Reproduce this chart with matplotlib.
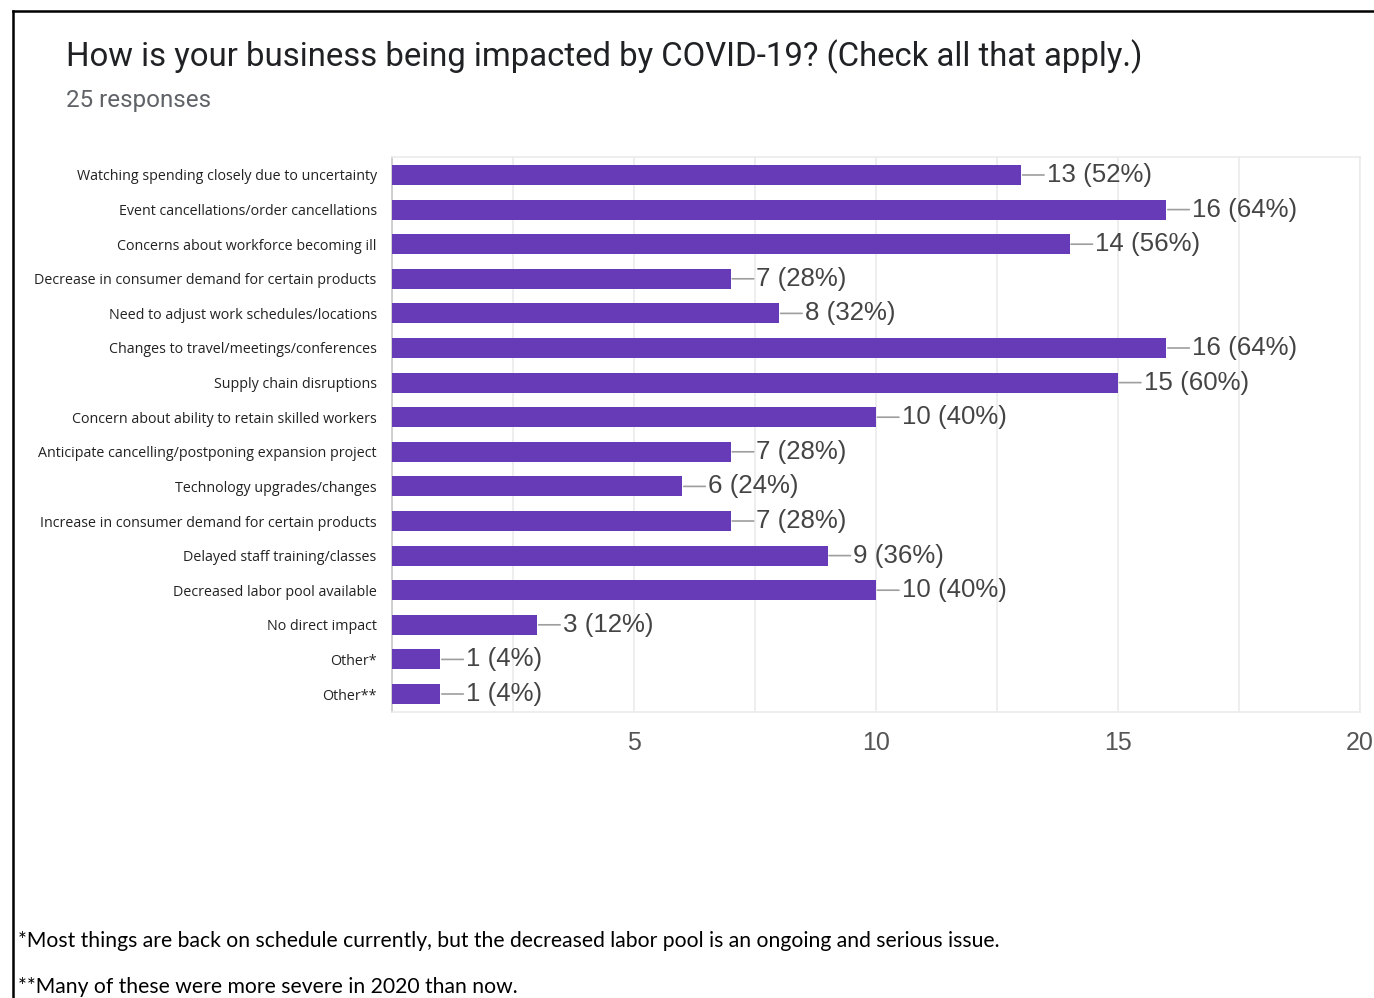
import matplotlib
matplotlib.use("Agg")
import matplotlib.pyplot as plt
from matplotlib.lines import Line2D
import numpy as np

# Data
categories = [
    "Watching spending closely due to uncertainty",
    "Event cancellations/order cancellations",
    "Concerns about workforce becoming ill",
    "Decrease in consumer demand for certain products",
    "Need to adjust work schedules/locations",
    "Changes to travel/meetings/conferences",
    "Supply chain disruptions",
    "Concern about ability to retain skilled workers",
    "Anticipate cancelling/postponing expansion project",
    "Technology upgrades/changes",
    "Increase in consumer demand for certain products",
    "Delayed staff training/classes",
    "Decreased labor pool available",
    "No direct impact",
    "Other*",
    "Other**",
]
counts = [13, 16, 14, 7, 8, 16, 15, 10, 7, 6, 7, 9, 10, 3, 1, 1]
n_responses = 25

title = "How is your business being impacted by COVID-19? (Check all that apply.)"
subtitle = f"{n_responses} responses"
footnotes = [
    "*Most things are back on schedule currently, but the decreased labor pool is an ongoing and serious issue.",
    "**Many of these were more severe in 2020 than now.",
]

W, H = 1374, 998
fig = plt.figure(figsize=(W / 100, H / 100), dpi=100)
fig.patch.set_facecolor("white")

# plot area
ax = fig.add_axes([392 / W, 1 - 712 / H, (1360 - 392) / W, (712 - 157) / H])
y = np.arange(len(categories))
ax.barh(y, counts, height=0.58, color="#673ab7", zorder=3)
ax.set_ylim(len(categories) - 0.48, -0.52)
ax.set_xlim(0, 20)

for yi, c in zip(y, counts):
    ax.annotate(f"{c} ({round(100 * c / n_responses)}%)", xy=(c, yi),
                xytext=(18.5, 0), textcoords="offset points",
                va="center", ha="left", fontsize=18.6, color="#444444",
                family="Liberation Sans",
                arrowprops=dict(arrowstyle="-", color="#9e9e9e", lw=1.2,
                                shrinkA=0, shrinkB=1))

ax.set_yticks(y)
ax.set_yticklabels(categories, family="Open Sans", fontsize=10.3, color="#222222")
ax.tick_params(axis="y", length=0, pad=11)

xt = np.arange(0, 20.01, 2.5)
ax.set_xticks(xt)
ax.set_xticklabels([f"{v:g}" if v > 0 and v % 5 == 0 else "" for v in xt],
                   family="Liberation Sans", fontsize=18, color="#555555")
ax.tick_params(axis="x", length=0, pad=14)
ax.grid(axis="x", color="#ebebeb", lw=1.2, zorder=0)
for s in ["top", "right", "bottom"]:
    ax.spines[s].set_color("#ebebeb")
    ax.spines[s].set_linewidth(1.2)
ax.spines["left"].set_color("#c8c8c8")
ax.spines["left"].set_linewidth(1.2)

# titles
fig.text(66 / W, 1 - 57 / H, title, family="Roboto", fontsize=23.7,
         color="#202124", va="center", ha="left")
fig.text(66 / W, 1 - 100 / H, subtitle, family="Roboto", fontsize=17.4,
         color="#5f6368", va="center", ha="left")

# footnotes
fig.text(18 / W, 1 - 941 / H, footnotes[0], family="Lato", fontsize=15.25,
         color="black", va="center", ha="left")
fig.text(18 / W, 1 - 987 / H, footnotes[1], family="Lato", fontsize=15.25,
         color="black", va="center", ha="left")

# page border
fig.add_artist(Line2D([13 / W, 13 / W], [0, 1 - 11 / H], color="black", lw=1.8))
fig.add_artist(Line2D([13 / W, 1], [1 - 11 / H, 1 - 11 / H], color="black", lw=1.8))

fig.savefig("out.png", dpi=100)
